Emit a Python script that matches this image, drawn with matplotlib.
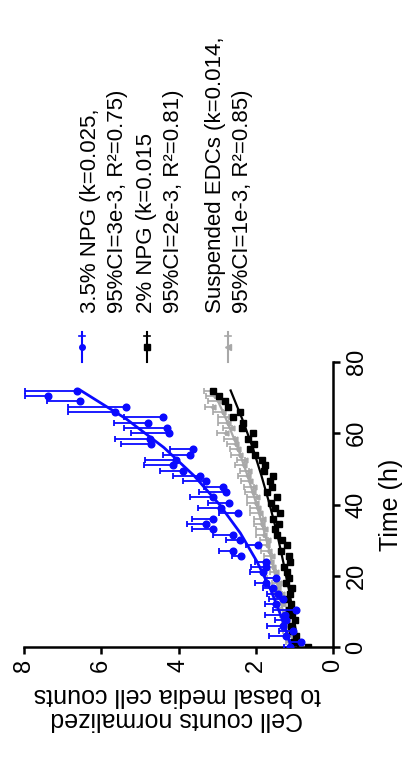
# Cell growth curves (rotated layout, as in the reference)
import numpy as np
import matplotlib
matplotlib.use('Agg')
import matplotlib.pyplot as plt
from matplotlib.lines import Line2D

plt.rcParams['font.family'] = ['Liberation Sans', 'DejaVu Sans']

# Time points (h)
time_h = [0, 1.5, 3, 4.5, 6, 7.5, 9, 10.5, 12, 13.5, 15, 16.5, 18, 19.5, 21, 22.5,
          24, 25.5, 27, 28.5, 30, 31.5, 33, 34.5, 36, 37.5, 39, 40.5, 42, 43.5, 45, 46.5,
          48, 49.5, 51, 52.5, 54, 55.5, 57, 58.5, 60, 61.5, 63, 64.5, 66, 67.5, 69, 70.5, 72]

# 3.5% NPG
npg35 = [1.12, 0.82, 1.21, 1.04, 1.30, 1.21, 1.25, 0.95, 1.47, 1.30, 1.42, 1.55, 1.73, 1.47, 1.81, 1.73,
         1.73, 2.37, 2.60, 1.94, 2.42, 2.60, 3.10, 3.28, 3.10, 2.46, 2.90, 2.68, 3.10, 2.76, 2.85, 3.28,
         3.45, 3.89, 4.15, 4.06, 3.71, 3.63, 4.70, 4.74, 4.24, 4.31, 4.78, 4.40, 5.65, 5.36, 6.55, 7.37, 6.62]
npg35_err = [0.15, 0.30, 0.45, 0.35, 0.40, 0.30, 0.50, 0.60, 0.30, 0.35, 0.30, 0.25, 0.30, 0.30, 0.35, 0.40,
             0.30, 0.25, 0.35, 0.30, 0.35, 0.50, 0.55, 0.50, 0.55, 0.50, 0.60, 0.55, 0.60, 0.70, 0.50, 0.60,
             0.70, 0.60, 0.75, 0.80, 0.70, 0.60, 0.80, 0.90, 1.00, 1.10, 0.90, 1.00, 1.20, 1.50, 0.85, 0.60, 1.35]

# 2% NPG
npg2 = [0.65, 1.00, 0.95, 1.05, 1.10, 0.98, 1.05, 1.15, 1.08, 1.20, 1.12, 1.05, 1.22, 1.15, 1.20, 1.28,
        1.12, 1.15, 1.35, 1.20, 1.33, 1.45, 1.50, 1.40, 1.55, 1.38, 1.50, 1.60, 1.46, 1.72, 1.59, 1.63,
        1.55, 1.78, 1.76, 1.85, 2.02, 2.15, 2.05, 2.20, 2.07, 2.35, 2.33, 2.60, 2.42, 2.72, 2.80, 2.94, 3.10]
npg2_err = [0.05] * len(npg2)

# Suspended EDCs
edc = [1.00, 1.10, 1.05, 1.15, 1.20, 1.18, 1.25, 1.22, 1.30, 1.35, 1.32, 1.42, 1.40, 1.50, 1.48, 1.55,
       1.60, 1.58, 1.65, 1.70, 1.68, 1.78, 1.75, 1.85, 1.82, 1.90, 1.95, 2.00, 1.98, 2.08, 2.05, 2.15,
       2.20, 2.18, 2.30, 2.28, 2.40, 2.45, 2.50, 2.55, 2.76, 2.62, 2.72, 2.70, 2.85, 3.10, 2.95, 3.05, 3.10]
edc_err = [0.10, 0.12, 0.10, 0.15, 0.12, 0.15, 0.12, 0.15, 0.18, 0.15, 0.20, 0.15, 0.18, 0.20, 0.15, 0.20,
           0.18, 0.20, 0.22, 0.18, 0.20, 0.22, 0.25, 0.20, 0.22, 0.25, 0.20, 0.22, 0.25, 0.20, 0.25, 0.22,
           0.25, 0.22, 0.25, 0.20, 0.25, 0.22, 0.25, 0.28, 0.25, 0.22, 0.25, 0.28, 0.25, 0.22, 0.28, 0.25, 0.25]

# exponential fit curves
fit_t = [0, 8, 16, 24, 32, 40, 48, 56, 64, 72]
fit_npg35 = [1.08, 1.32, 1.61, 1.97, 2.40, 2.94, 3.59, 4.38, 5.35, 6.53]
fit_npg2 = [0.90, 1.01, 1.14, 1.29, 1.45, 1.64, 1.85, 2.08, 2.35, 2.65]
fit_edc = [1.13, 1.26, 1.41, 1.58, 1.77, 1.98, 2.21, 2.47, 2.77, 3.10]

labels = ['3.5% NPG (k=0.025,\n95%CI=3e-3, R²=0.75)',
          '2% NPG (k=0.015\n95%CI=2e-3, R²=0.81)',
          'Suspended EDCs (k=0.014,\n95%CI=1e-3, R²=0.85)']

BLUE = '#0a0aff'
GRAY = '#a8a8a8'
W, H = 405, 761

fig = plt.figure(figsize=(W / 100, H / 100), dpi=100)
ax = fig.add_axes([24 / W, 1 - 647 / H, 309 / W, 285 / H])

zeros = [0] * len(time_h)

# gray, then black, then blue on top
ax.errorbar(edc, time_h, xerr=[zeros, edc_err], fmt='<', ms=3.5, color=GRAY,
            ecolor=GRAY, elinewidth=1.2, capsize=2.5, capthick=1.2, zorder=2)
ax.plot(fit_edc, fit_t, color=GRAY, lw=1.6, zorder=2)
ax.errorbar(npg2, time_h, xerr=[zeros, npg2_err], fmt='s', ms=5, color='black',
            ecolor='black', elinewidth=1.2, capsize=2, zorder=3)
ax.plot(fit_npg2, fit_t, color='black', lw=1.6, zorder=3)
ax.errorbar(npg35, time_h, xerr=[zeros, npg35_err], fmt='o', ms=4.8, color=BLUE,
            ecolor=BLUE, elinewidth=1.3, capsize=2.5, capthick=1.3, zorder=4)
ax.plot(fit_npg35, fit_t, color=BLUE, lw=2, zorder=4)

ax.set_xlim(8, 0)
ax.set_ylim(0, 80)
ax.set_xticks([0, 2, 4, 6, 8])
ax.set_yticks([0, 20, 40, 60, 80])
for s in ['left', 'top']:
    ax.spines[s].set_visible(False)
for s in ['right', 'bottom']:
    ax.spines[s].set_linewidth(1.8)
ax.yaxis.tick_right()
ax.yaxis.set_label_position('right')
ax.tick_params(axis='both', direction='out', length=5, width=1.8, labelsize=17)
ax.tick_params(axis='y', pad=4)
for lab in ax.get_yticklabels():
    lab.set_rotation(90)
    lab.set_va('center')
for lab in ax.get_xticklabels():
    lab.set_rotation(90)
    lab.set_ha('center')
ax.set_ylabel('Time (h)', fontsize=18, rotation=90, labelpad=8)

fig.text(177 / W, 1 - 707 / H, 'Cell counts normalized\nto basal media cell counts',
         rotation=180, ha='center', va='center', fontsize=18, linespacing=1.05)

# legend (rotated, drawn by hand)
leg_x = [82, 147, 228]
leg_text_x = [104, 160, 229]
colors = [BLUE, 'black', GRAY]
marks = ['o', 's', '<']
for lx, tx, c, m, lab in zip(leg_x, leg_text_x, colors, marks, labels):
    fx = lx / W
    fig.add_artist(Line2D([fx, fx], [1 - 362 / H, 1 - 332 / H], color=c, lw=1.5))
    fig.add_artist(Line2D([fx - 3 / W, fx + 3 / W], [1 - 336 / H, 1 - 336 / H], color=c, lw=1.2))
    fig.add_artist(Line2D([fx], [1 - 347 / H], marker=m, ms=4, color=c))
    fig.text(tx / W, 1 - 313 / H, lab, rotation=90, ha='center', va='bottom',
             multialignment='left', fontsize=16, linespacing=1.35)

fig.savefig('out.png', dpi=100)
